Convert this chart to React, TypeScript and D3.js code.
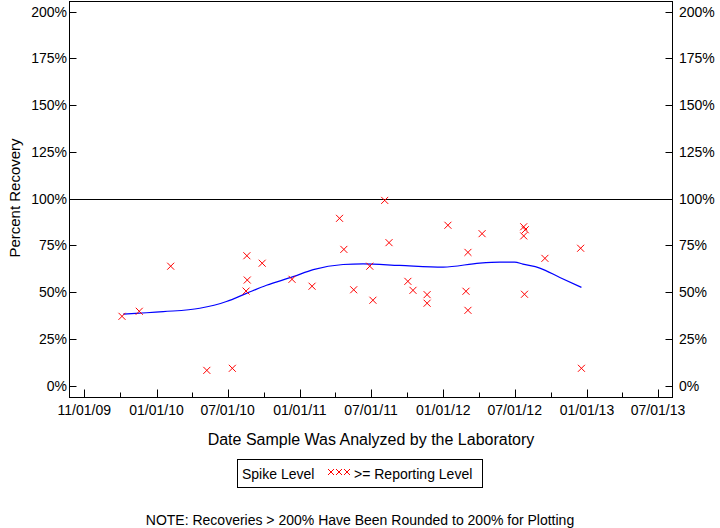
import React, { useEffect, useRef } from "react";
import * as d3 from "d3";

// recovery samples (date analyzed, percent recovery)
const sampleDates = [
  "2009-10-05", "2009-11-18", "2010-02-06", "2010-05-09", "2010-07-13",
  "2010-08-19", "2010-08-20", "2010-08-17", "2010-09-27", "2010-12-12",
  "2011-02-01", "2011-04-12", "2011-04-23", "2011-05-18", "2011-06-28",
  "2011-07-06", "2011-08-05", "2011-08-16", "2011-10-03", "2011-10-16",
  "2011-11-21", "2011-11-21", "2012-01-13", "2012-03-04", "2012-02-28",
  "2012-03-04", "2012-04-09", "2012-07-24", "2012-07-28", "2012-07-24",
  "2012-07-26", "2012-09-16", "2012-12-16", "2012-12-18",
];
const samplePct = [
  37.1, 39.8, 63.9, 8.2, 9.3,
  69.5, 56.5, 50.6, 65.5, 56.9,
  53.2, 89.5, 72.9, 51.3, 63.9,
  45.7, 99.1, 76.5, 55.8, 51.0,
  48.7, 44.1, 85.8, 71.3, 50.5,
  40.3, 81.3, 85.0, 83.4, 80.1,
  48.9, 68.1, 73.5, 9.3,
];

// smoothed trend line
const trendDates = [
  "2009-10-08", "2010-01-18", "2010-04-21", "2010-06-28", "2010-08-18",
  "2010-10-08", "2010-12-15", "2011-02-04", "2011-04-21", "2011-06-11",
  "2011-09-12", "2012-01-01", "2012-04-03", "2012-05-24", "2012-07-01",
  "2012-07-22", "2012-09-03", "2012-10-24", "2012-12-18",
];
const trendPct = [
  38.3, 39.6, 41.4, 45.0, 49.4,
  53.7, 58.3, 62.1, 64.8, 65.1,
  64.3, 63.4, 65.6, 66.1, 66.1,
  65.0, 62.9, 57.9, 52.6,
];

const xTickDates = [
  "2009-07-01", "2010-01-01", "2010-07-01", "2011-01-01", "2011-07-01",
  "2012-01-01", "2012-07-01", "2013-01-01", "2013-07-01",
];
const xTickLabels = [
  "11/01/09", "01/01/10", "07/01/10", "01/01/11", "07/01/11",
  "01/01/12", "07/01/12", "01/01/13", "07/01/13",
];
const yTicks = [0, 25, 50, 75, 100, 125, 150, 175, 200];

const FONT = "'Liberation Sans', Arial, sans-serif";

export default function App() {
  const ref = useRef<SVGSVGElement>(null);

  useEffect(() => {
    const width = 720;
    const height = 528;
    const left = 69.5;
    const right = 672.5;
    const top = 1.5;
    const bottom = 397.5;

    const parse = d3.utcParse("%Y-%m-%d");

    const x = d3
      .scaleUtc()
      .domain([parse("2009-07-01")!, parse("2013-07-01")!])
      .range([84.3, 658]);
    const y = d3.scaleLinear().domain([0, 200]).range([385.7, 11.7]);

    const svg = d3.select(ref.current);
    svg.selectAll("*").remove();
    svg.attr("width", width).attr("height", height);

    svg
      .append("rect")
      .attr("width", width)
      .attr("height", height)
      .attr("fill", "white");

    // frame
    svg
      .append("rect")
      .attr("x", left)
      .attr("y", top)
      .attr("width", right - left)
      .attr("height", bottom - top)
      .attr("fill", "none")
      .attr("stroke", "black");

    // 100% reference line
    svg
      .append("line")
      .attr("x1", left)
      .attr("x2", right)
      .attr("y1", Math.round(y(100)) + 0.5)
      .attr("y2", Math.round(y(100)) + 0.5)
      .attr("stroke", "black");

    // y ticks, both sides, pointing in
    const yg = svg.append("g").attr("font-family", FONT).attr("font-size", 14);
    yTicks.forEach((t) => {
      const yy = Math.round(y(t)) + 0.5;
      yg.append("line")
        .attr("x1", left).attr("x2", left + 7)
        .attr("y1", yy).attr("y2", yy)
        .attr("stroke", "black");
      yg.append("line")
        .attr("x1", right - 7).attr("x2", right)
        .attr("y1", yy).attr("y2", yy)
        .attr("stroke", "black");
      yg.append("text")
        .attr("x", 67)
        .attr("y", yy)
        .attr("dy", "0.35em")
        .attr("text-anchor", "end")
        .text(`${t}%`);
      yg.append("text")
        .attr("x", 679)
        .attr("y", yy)
        .attr("dy", "0.35em")
        .text(`${t}%`);
    });

    // x ticks: major every 6 months, minor every 3
    const minor = d3.utcMonth
      .every(3)!
      .range(parse("2009-07-01")!, parse("2013-07-02")!);
    const xg = svg.append("g").attr("font-family", FONT).attr("font-size", 14);
    minor.forEach((d) => {
      const xx = Math.round(x(d)) + 0.5;
      const major = d.getUTCMonth() % 6 === 0;
      xg.append("line")
        .attr("x1", xx).attr("x2", xx)
        .attr("y1", bottom).attr("y2", bottom - (major ? 8 : 5))
        .attr("stroke", "black");
    });
    xTickDates.forEach((s, i) => {
      xg.append("text")
        .attr("x", x(parse(s)!))
        .attr("y", 415)
        .attr("text-anchor", "middle")
        .text(xTickLabels[i]);
    });

    // trend line
    const trend = trendDates.map((d, i) => ({ date: parse(d)!, v: trendPct[i] }));
    const line = d3
      .line<{ date: Date; v: number }>()
      .x((d) => x(d.date))
      .y((d) => y(d.v))
      .curve(d3.curveMonotoneX);
    svg
      .append("path")
      .attr("d", line(trend))
      .attr("fill", "none")
      .attr("stroke", "#0000ff")
      .attr("stroke-width", 1.2);

    // sample markers
    const pts = sampleDates.map((d, i) => ({ date: parse(d)!, v: samplePct[i] }));
    const s = 3.5;
    svg
      .append("g")
      .selectAll("path")
      .data(pts)
      .join("path")
      .attr("d", (d) => {
        const cx = x(d.date);
        const cy = y(d.v);
        return `M${cx - s},${cy - s}L${cx + s},${cy + s}M${cx - s},${cy + s}L${cx + s},${cy - s}`;
      })
      .attr("stroke", "#ff0000")
      .attr("stroke-width", 1)
      .attr("fill", "none");

    // axis titles
    svg
      .append("text")
      .attr("x", 371)
      .attr("y", 445)
      .attr("text-anchor", "middle")
      .attr("font-family", FONT)
      .attr("font-size", 16)
      .text("Date Sample Was Analyzed by the Laboratory");
    svg
      .append("text")
      .attr("transform", "translate(20,198) rotate(-90)")
      .attr("text-anchor", "middle")
      .attr("font-family", FONT)
      .attr("font-size", 15)
      .text("Percent Recovery");

    // legend
    const lg = svg.append("g").attr("font-family", FONT).attr("font-size", 14);
    lg.append("rect")
      .attr("x", 237.5).attr("y", 459.5)
      .attr("width", 245).attr("height", 28)
      .attr("fill", "none").attr("stroke", "black");
    lg.append("text").attr("x", 242).attr("y", 479).text("Spike Level");
    [331, 339, 347].forEach((cx) => {
      lg.append("path")
        .attr("d", `M${cx - 3},${469}L${cx + 3},${475}M${cx - 3},${475}L${cx + 3},${469}`)
        .attr("stroke", "#ff0000")
        .attr("fill", "none");
    });
    lg.append("text").attr("x", 354).attr("y", 479).text(">= Reporting Level");

    svg
      .append("text")
      .attr("x", 360)
      .attr("y", 525)
      .attr("text-anchor", "middle")
      .attr("font-family", FONT)
      .attr("font-size", 14)
      .text("NOTE: Recoveries > 200% Have Been Rounded to 200% for Plotting");
  }, []);

  return (
    <svg
      ref={ref}
      style={{ position: "absolute", left: 0, top: 0, display: "block" }}
    />
  );
}
